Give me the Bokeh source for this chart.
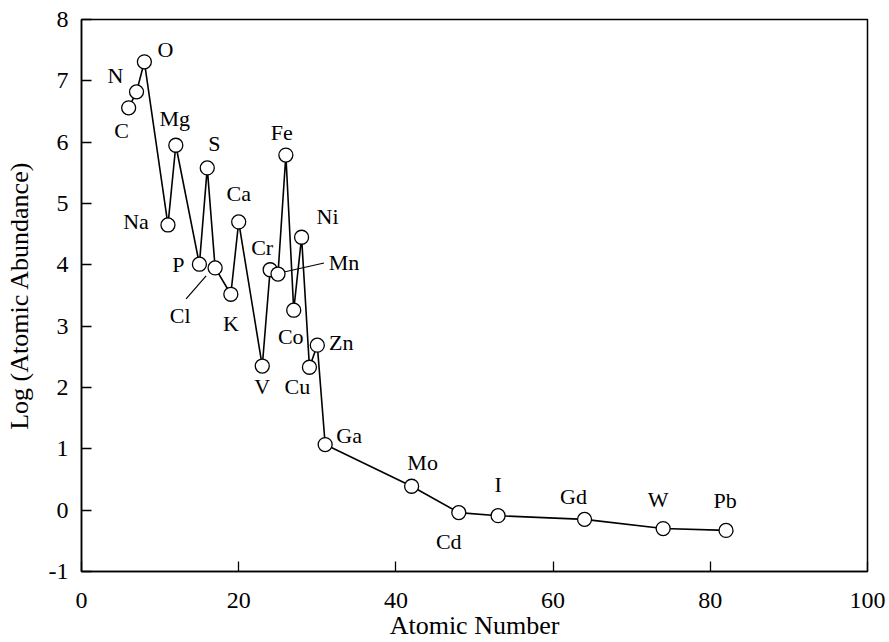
from bokeh.plotting import figure
from bokeh.models import ColumnDataSource, FixedTicker
from bokeh.embed import file_html
from bokeh.resources import INLINE
from bokeh.core.properties import value

# ---- data ----
elements = ["C", "N", "O", "Na", "Mg", "P", "S", "Cl", "K", "Ca", "V", "Cr", "Mn",
            "Fe", "Co", "Ni", "Cu", "Zn", "Ga", "Mo", "Cd", "I", "Gd", "W", "Pb"]
atomic_number = [6, 7, 8, 11, 12, 15, 16, 17, 19, 20, 23, 24, 25,
                 26, 27, 28, 29, 30, 31, 42, 48, 53, 64, 74, 82]
log_abundance = [6.56, 6.82, 7.31, 4.65, 5.95, 4.01, 5.58, 3.95, 3.52, 4.70, 2.35, 3.92, 3.85,
                 5.79, 3.26, 4.45, 2.33, 2.69, 1.07, 0.39, -0.04, -0.09, -0.15, -0.30, -0.33]
x_ticks = [0, 20, 40, 60, 80, 100]
y_ticks = [-1, 0, 1, 2, 3, 4, 5, 6, 7, 8]

# ---- label placement (screen pixel offsets from each point) ----
label_dx = [-7, -21, 21, -32, -1, -21, 7, -35, 0, 0, 0, -8, 66,
            -4, -3, 26, -12, 24, 24, 11, -10, 0, -11, -5, -1]
label_dy = [23, -16, -12, -3, -27, 0, -24, 48, 29, -28, 20, -22, -12,
            -23, 26, -21, 19, -3, -9, -24, 29, -31, -23, -29, -30]
# leader lines: element, start offset, end offset (pixels)
leaders = [("Cl", (-9, 8), (-29, 31)), ("Mn", (6, -2), (46, -11))]

W, H = 889, 642
BL, BR, BT, BB = 81, 22, 19, 71
XR = (0, 100)
YR = (-1, 8)
FONT = "Liberation Serif"

p = figure(width=W, height=H, x_range=XR, y_range=YR,
           output_backend="svg", toolbar_location=None,
           min_border_left=BL, min_border_right=BR,
           min_border_top=BT, min_border_bottom=BB)
p.xgrid.visible = False
p.ygrid.visible = False
p.background_fill_color = "white"
p.border_fill_color = "white"
p.outline_line_color = "black"
p.outline_line_width = 1.5

for ax in (p.xaxis[0], p.yaxis[0]):
    ax.axis_line_width = 1.5
    ax.axis_line_color = "black"
    ax.major_tick_in = 10
    ax.major_tick_out = 0
    ax.major_tick_line_width = 1.3
    ax.minor_tick_line_color = None
    ax.major_label_text_font = FONT
    ax.major_label_text_font_size = "24px"
    ax.major_label_text_color = "black"
    ax.axis_label_text_font = FONT
    ax.axis_label_text_font_size = "26px"
    ax.axis_label_text_font_style = "normal"
    ax.axis_label_text_color = "black"

p.xaxis.ticker = FixedTicker(ticks=x_ticks)
p.yaxis.ticker = FixedTicker(ticks=y_ticks)
p.yaxis.major_label_overrides = {t: ("-1" if t == -1 else str(t)) for t in y_ticks}
p.xaxis.axis_label = "Atomic Number"
p.yaxis.axis_label = "Log (Atomic Abundance)"
p.xaxis.major_label_standoff = 21
p.yaxis.major_label_standoff = 13
p.xaxis.axis_label_standoff = 0
p.yaxis.axis_label_standoff = 12

src = ColumnDataSource(dict(x=atomic_number, y=log_abundance, label=elements,
                            dx=label_dx, dy=label_dy))

p.line("x", "y", source=src, line_color="black", line_width=1.6)
p.scatter("x", "y", source=src, size=14, marker="circle",
          fill_color="white", line_color="black", line_width=1.3)
p.text("x", "y", text="label", source=src, x_offset="dx", y_offset="dy",
       text_font=value(FONT), text_font_size="22px", text_color="black",
       text_align="center", text_baseline="middle")

# leader lines, converted from pixel offsets via the frame scale
fw = W - BL - BR
fh = H - BT - BB
sx = fw / (XR[1] - XR[0])
sy = fh / (YR[1] - YR[0])
x0s, y0s, x1s, y1s = [], [], [], []
for el, (ax0, ay0), (ax1, ay1) in leaders:
    i = elements.index(el)
    x0s.append(atomic_number[i] + ax0 / sx)
    y0s.append(log_abundance[i] - ay0 / sy)
    x1s.append(atomic_number[i] + ax1 / sx)
    y1s.append(log_abundance[i] - ay1 / sy)
p.segment(x0s, y0s, x1s, y1s, line_color="black", line_width=1.2)

open("out.html", "w").write(file_html(p, INLINE))
